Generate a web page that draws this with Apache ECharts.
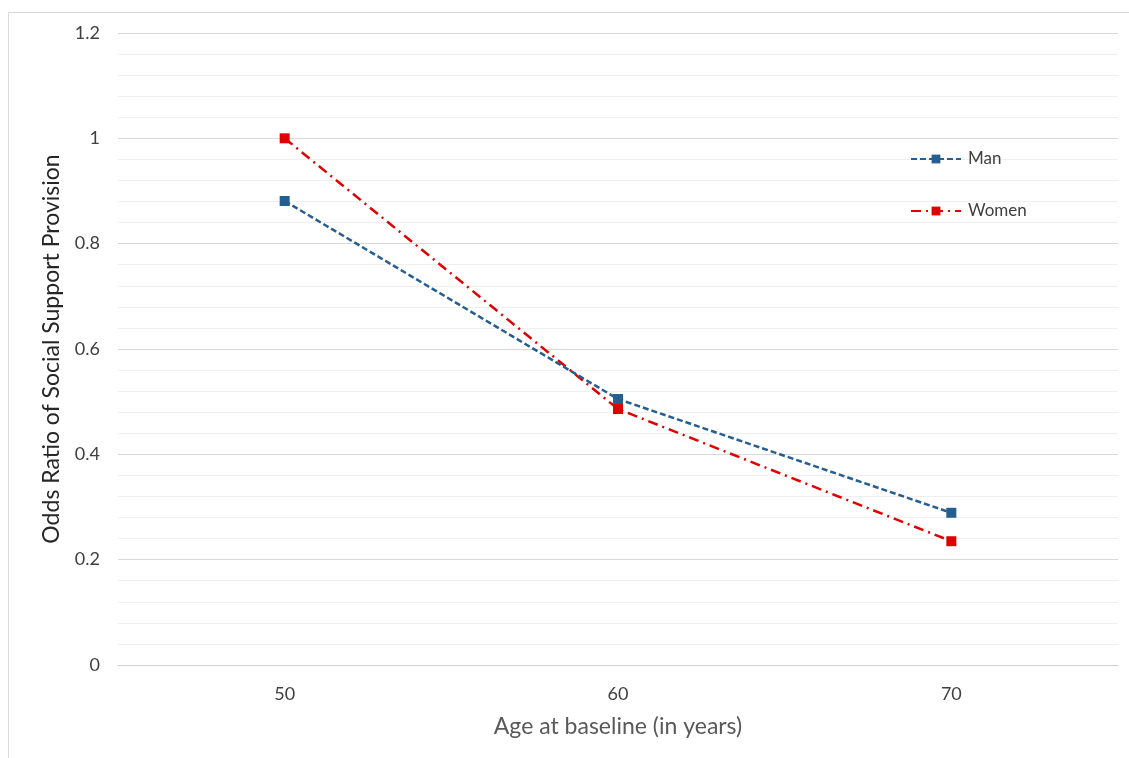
<!DOCTYPE html>
<html>
<head>
<meta charset="utf-8">
<script src="https://cdn.jsdelivr.net/npm/echarts@6/dist/echarts.min.js"></script>
<style>html,body{margin:0;padding:0;background:#fff}#c{width:1129px;height:758px}</style>
</head>
<body>
<div id="c"></div>
<script>
const categories = ['50', '60', '70'];
const manValues = [0.881, 0.505, 0.289];
const womenValues = [1.0, 0.486, 0.235];
const yTicks = [0, 0.2, 0.4, 0.6, 0.8, 1.0, 1.2];

const chart = echarts.init(document.getElementById('c'), null, {renderer: 'canvas'});
const font = 'Lato, "Open Sans", sans-serif';
chart.setOption({
  animation: false,
  backgroundColor: '#fff',
  graphic: [{
    type: 'rect', shape: {x: 8.5, y: 12.5, width: 1125, height: 760},
    style: {fill: 'none', stroke: '#d9d9d9', lineWidth: 1}, z: -1
  }],
  grid: {left: 118, right: 11, top: 33, bottom: 93},
  legend: {
    orient: 'vertical', left: 905, top: 145, itemWidth: 50, itemHeight: 11, itemGap: 34,
    textStyle: {fontFamily: font, fontSize: 17, lineHeight: 18, color: '#404040', padding: [0, 0, 0, 2]},
    data: ['Man', 'Women']
  },
  xAxis: {
    type: 'category', data: categories, boundaryGap: true,
    name: 'Age at baseline (in years)', nameLocation: 'middle', nameGap: 50,
    nameTextStyle: {fontFamily: font, fontSize: 23, color: '#595959'},
    axisLine: {show: true, lineStyle: {color: '#d0d0d0'}},
    axisTick: {show: false},
    axisLabel: {fontFamily: font, fontSize: 18, color: '#404040', margin: 20}
  },
  yAxis: {
    type: 'value', min: yTicks[0], max: yTicks[yTicks.length - 1], interval: 0.2,
    name: 'Odds Ratio of Social Support Provision', nameLocation: 'middle', nameGap: 55,
    nameTextStyle: {fontFamily: font, fontSize: 23, color: '#262626'},
    axisLine: {show: false}, axisTick: {show: false},
    axisLabel: {fontFamily: font, fontSize: 18, color: '#404040', margin: 18,
      formatter: v => String(Math.round(v * 10) / 10)},
    splitLine: {lineStyle: {color: '#d9d9d9', width: 1}},
    minorTick: {show: false, splitNumber: 5},
    minorSplitLine: {show: true, lineStyle: {color: '#efefef', width: 1}}
  },
  series: [
    {
      name: 'Man', type: 'line', data: manValues,
      symbol: 'rect', symbolSize: 10,
      itemStyle: {color: '#255e91'},
      lineStyle: {color: '#255e91', width: 2.5, type: [6, 3]},
      z: 3
    },
    {
      name: 'Women', type: 'line', data: womenValues,
      symbol: 'rect', symbolSize: 10,
      itemStyle: {color: '#e00000'},
      lineStyle: {color: '#e00000', width: 2.5, type: [10, 5, 2, 5]},
      z: 2
    }
  ]
});
</script>
</body>
</html>
